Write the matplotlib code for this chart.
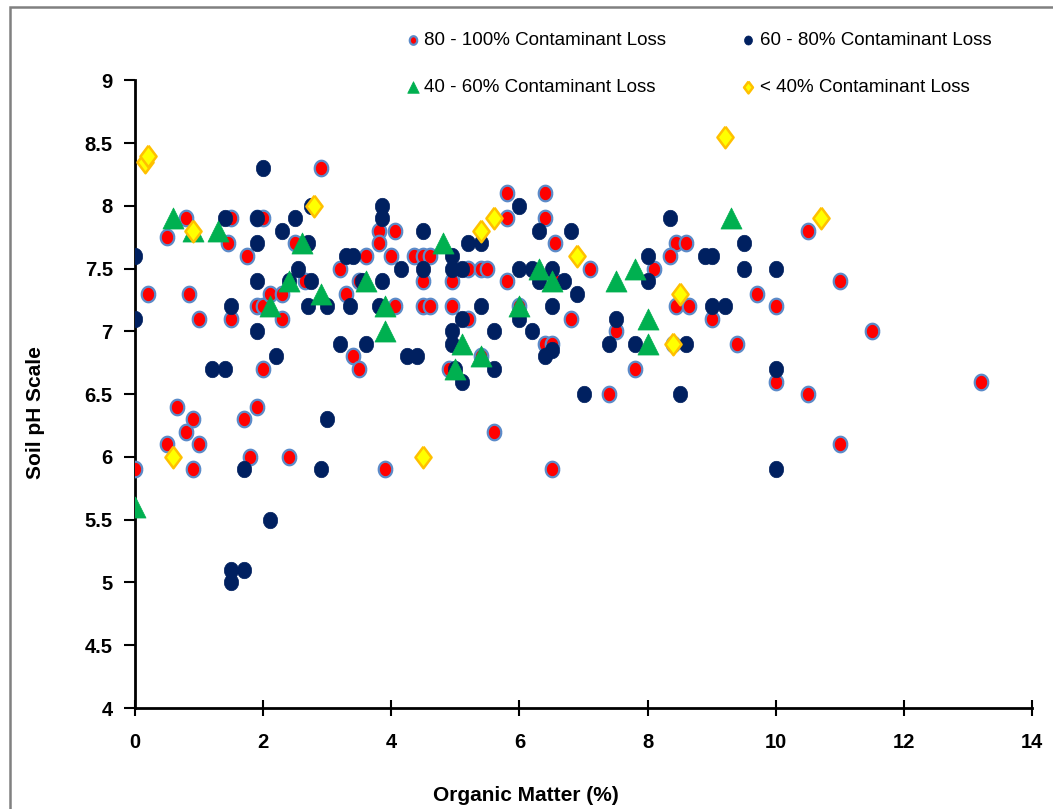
import numpy as np
import matplotlib
matplotlib.use("Agg")
import matplotlib.pyplot as plt
from matplotlib.patches import Rectangle

plt.rcParams['font.family'] = ['Liberation Sans', 'DejaVu Sans']

# 80 - 100% contaminant loss
red_om = [0, 0.2, 0.5, 0.5, 0.65, 0.8, 0.8, 0.9, 0.85, 0.9, 1.0, 1.0, 1.5, 1.45, 1.5,
          1.7, 1.75, 1.8, 1.9, 2.0, 1.9, 1.9, 2.0, 2.0, 2.1, 2.3, 2.3, 2.4, 2.9, 2.5,
          2.65, 3.8, 4.05, 3.8, 3.6, 4.0, 4.35, 4.5, 4.6, 3.2, 5.2, 5.4, 5.5, 3.5, 4.5,
          4.95, 3.3, 4.05, 4.5, 4.6, 4.95, 5.2, 3.4, 3.5, 4.9, 5.4, 5.6, 3.9, 6.5, 5.8,
          6.4, 5.8, 6.4, 6.55, 8.45, 8.6, 8.35, 7.1, 8.1, 6.55, 5.8, 8.45, 6.0, 6.8, 7.5,
          6.4, 6.5, 8.4, 7.8, 7.4, 10.5, 11.0, 9.7, 8.65, 10.0, 9.0, 11.5, 9.4, 10.0, 10.5,
          13.2, 11.0]
red_ph = [5.9, 7.3, 7.75, 6.1, 6.4, 7.9, 6.2, 6.3, 7.3, 5.9, 6.1, 7.1, 7.9, 7.7, 7.1,
          6.3, 7.6, 6.0, 7.9, 7.9, 6.4, 7.2, 7.2, 6.7, 7.3, 7.3, 7.1, 6.0, 8.3, 7.7,
          7.4, 7.8, 7.8, 7.7, 7.6, 7.6, 7.6, 7.6, 7.6, 7.5, 7.5, 7.5, 7.5, 7.4, 7.4,
          7.4, 7.3, 7.2, 7.2, 7.2, 7.2, 7.1, 6.8, 6.7, 6.7, 6.8, 6.2, 5.9, 5.9, 8.1,
          8.1, 7.9, 7.9, 7.7, 7.7, 7.7, 7.6, 7.5, 7.5, 7.4, 7.4, 7.2, 7.2, 7.1, 7.0,
          6.9, 6.9, 6.9, 6.7, 6.5, 7.8, 7.4, 7.3, 7.2, 7.2, 7.1, 7.0, 6.9, 6.6, 6.5,
          6.6, 6.1]

# 60 - 80% contaminant loss
navy_om = [0, 0, 2.0, 1.4, 1.9, 2.5, 2.3, 1.9, 2.7, 2.75, 2.55, 1.9, 2.4, 2.75, 2.7,
           1.5, 1.9, 3.85, 3.85, 4.5, 5.2, 5.4, 3.3, 3.4, 4.95, 4.15, 4.5, 4.95, 5.1, 3.55,
           3.85, 3.0, 3.35, 3.8, 5.4, 5.1, 5.6, 4.95, 3.2, 3.6, 4.25, 4.4, 4.95, 5.0, 5.1,
           5.6, 6.4, 6.5, 2.2, 1.2, 1.4, 1.7, 2.9, 3.0, 2.1, 1.5, 1.7, 1.5, 6.0, 8.35,
           6.3, 6.8, 8.0, 6.0, 6.2, 6.5, 6.3, 6.7, 8.0, 6.9, 6.5, 6.0, 7.5, 6.2, 7.4,
           7.8, 9.5, 8.9, 9.0, 9.5, 10.0, 9.0, 9.2, 8.6, 10.0, 8.5, 10.0, 7.0]
navy_ph = [7.6, 7.1, 8.3, 7.9, 7.9, 7.9, 7.8, 7.7, 7.7, 8.0, 7.5, 7.4, 7.4, 7.4, 7.2,
           7.2, 7.0, 8.0, 7.9, 7.8, 7.7, 7.7, 7.6, 7.6, 7.6, 7.5, 7.5, 7.5, 7.5, 7.4,
           7.4, 7.2, 7.2, 7.2, 7.2, 7.1, 7.0, 7.0, 6.9, 6.9, 6.8, 6.8, 6.9, 6.7, 6.6,
           6.7, 6.8, 6.85, 6.8, 6.7, 6.7, 5.9, 5.9, 6.3, 5.5, 5.1, 5.1, 5.0, 8.0, 7.9,
           7.8, 7.8, 7.6, 7.5, 7.5, 7.5, 7.4, 7.4, 7.4, 7.3, 7.2, 7.1, 7.1, 7.0, 6.9,
           6.9, 7.7, 7.6, 7.6, 7.5, 7.5, 7.2, 7.2, 6.9, 6.7, 6.5, 5.9, 6.5]

# 40 - 60% contaminant loss
green_om = [0, 0.6, 0.9, 1.3, 2.1, 2.4, 2.6, 2.9, 3.6, 3.9, 3.9, 4.8, 5.0, 5.1, 5.4,
            6.0, 6.3, 6.5, 7.5, 7.8, 8.0, 8.0, 9.3]
green_ph = [5.6, 7.9, 7.8, 7.8, 7.2, 7.4, 7.7, 7.3, 7.4, 7.2, 7.0, 7.7, 6.7, 6.9, 6.8,
            7.2, 7.5, 7.4, 7.4, 7.5, 7.1, 6.9, 7.9]

# < 40% contaminant loss
yellow_om = [0.15, 0.2, 0.6, 0.9, 2.8, 4.5, 5.4, 5.6, 6.9, 8.4, 8.5, 9.2, 10.7]
yellow_ph = [8.35, 8.4, 6.0, 7.8, 8.0, 6.0, 7.8, 7.9, 7.6, 6.9, 7.3, 8.55, 7.9]

# slightly tall shapes (the original is a little squeezed sideways)
t = np.linspace(0, 2 * np.pi, 40)
ellipse = np.column_stack([0.87 * np.cos(t), np.sin(t)])
diamond = np.array([[0, 1], [0.75, 0], [0, -1], [-0.75, 0], [0, 1]])

fig = plt.figure(figsize=(10.53, 8.09), dpi=100)
ax = fig.add_axes([0.1282, 0.1248, 0.852, 0.776])

h1 = ax.scatter(red_om, red_ph, s=125, marker=ellipse, c='#FF0000', edgecolors='#5B8BC9',
                linewidths=1.6, label='80 - 100% Contaminant Loss', zorder=3)
h2 = ax.scatter(navy_om, navy_ph, s=140, marker=ellipse, c='#002060', edgecolors='#002060',
                linewidths=0.5, label='60 - 80% Contaminant Loss', zorder=4)
h3 = ax.scatter(green_om, green_ph, s=230, marker='^', c='#00B050', edgecolors='#00B050',
                linewidths=0.5, label='40 - 60% Contaminant Loss', zorder=5)
h4 = ax.scatter(yellow_om, yellow_ph, s=240, marker=diamond, c='#FFFF00', edgecolors='#FFC000',
                linewidths=1.8, label='< 40% Contaminant Loss', zorder=6)

ax.set_xlim(0, 14)
ax.set_ylim(4, 9)
ax.set_xticks(np.arange(0, 15, 2))
ax.set_yticks(np.arange(4, 9.01, 0.5))
ax.set_yticklabels(['4', '4.5', '5', '5.5', '6', '6.5', '7', '7.5', '8', '8.5', '9'])
for side in ['top', 'right']:
    ax.spines[side].set_visible(False)
for side in ['left', 'bottom']:
    ax.spines[side].set_linewidth(2)
ax.tick_params(axis='y', direction='out', length=8, width=1.5, labelsize=14.5, pad=8)
ax.tick_params(axis='x', direction='inout', length=12, width=1.5, labelsize=14.5, pad=12)
for lab in ax.get_xticklabels() + ax.get_yticklabels():
    lab.set_fontweight('bold')

fig.text(0.034, 0.49, 'Soil pH Scale', rotation=90, ha='center', va='center',
         fontsize=15, fontweight='bold')
fig.text(0.499, 0.017, 'Organic Matter (%)', ha='center', va='center',
         fontsize=15, fontweight='bold')

fig.legend([h1, h3, h2, h4], [h1.get_label(), h3.get_label(), h2.get_label(), h4.get_label()],
           ncol=2, loc='center', bbox_to_anchor=(0.664, 0.921), frameon=False,
           fontsize=13.5, markerscale=0.55, handlelength=0.6, handletextpad=0.3,
           columnspacing=4.1, labelspacing=1.6)

fig.add_artist(Rectangle((0.0095, -0.05), 1.1, 1.041, transform=fig.transFigure,
                         fill=False, edgecolor='#808080', linewidth=1.8))

fig.savefig('out.png', dpi=100)
